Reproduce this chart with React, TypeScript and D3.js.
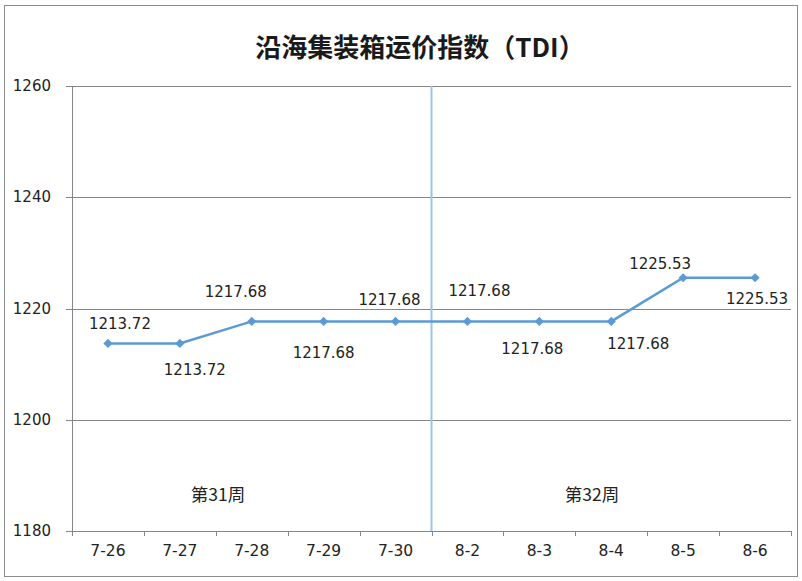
import React from "react";
import * as d3 from "d3";

const categories = ["7-26", "7-27", "7-28", "7-29", "7-30", "8-2", "8-3", "8-4", "8-5", "8-6"];
const values = [1213.72, 1213.72, 1217.68, 1217.68, 1217.68, 1217.68, 1217.68, 1217.68, 1225.53, 1225.53];
const yTicks = [1180, 1200, 1220, 1240, 1260];
const weekLabels = ["第31周", "第32周"];
const title = "沿海集装箱运价指数（TDI）";

// label placement offsets (layout only)
const labelDx = [12, 15, -16, 0, -6, 12, -7, 27, -23, 2];
const labelDy = [-19, 27, -29, 32, -21, -30, 28, 23, -14, 21];

const W = 802, H = 581;
const left = 72, right = 791, top = 86, bottom = 531;

export default function App() {
  const x = d3.scaleBand().domain(categories).range([left, right]).padding(0);
  const y = d3.scaleLinear().domain([1180, 1260]).range([bottom, top]);
  const cx = (c: string) => (x(c) as number) + x.bandwidth() / 2;
  const line = d3.line<number>().x((_, i) => cx(categories[i])).y((d) => y(d));
  const diamond = d3.symbol().type(d3.symbolSquare).size(42)();
  const boundaries = d3.range(categories.length + 1).map((i) => left + i * x.bandwidth());
  const split = x("8-2") as number;
  const font = "'DejaVu Sans', Verdana, sans-serif";
  const cjk = "'Noto Sans CJK SC', sans-serif";
  return (
    <svg width={W} height={H} style={{ position: "absolute", left: 0, top: 0, background: "#fff" }}>
      <rect x={4.5} y={5.5} width={793} height={571} fill="#fff" stroke="#8c8c8c" strokeWidth={1} />
      <text x={420} y={45} textAnchor="middle" dominantBaseline="central" fontFamily={cjk} fontWeight="bold" fontSize={26} fill="#1a1a1a">{title}</text>
      {yTicks.map((t) => (
        <g key={t}>
          <line x1={66} x2={right} y1={Math.round(y(t)) + 0.5} y2={Math.round(y(t)) + 0.5} stroke="#868686" strokeWidth={1} />
          <text x={51} y={y(t)} textAnchor="end" dominantBaseline="central" fontFamily={font} fontSize={15} fill="#222">{t}</text>
        </g>
      ))}
      <line x1={left + 0.5} x2={left + 0.5} y1={top} y2={bottom} stroke="#868686" />
      {boundaries.map((b, i) => (
        <line key={i} x1={Math.round(b) + 0.5} x2={Math.round(b) + 0.5} y1={bottom} y2={bottom + 5} stroke="#868686" />
      ))}
      {categories.map((c) => (
        <text key={c} x={cx(c)} y={551} textAnchor="middle" dominantBaseline="central" fontFamily={font} fontSize={15.5} fill="#222">{c}</text>
      ))}
      <line x1={split} x2={split} y1={top} y2={bottom} stroke="#9dc3e6" strokeWidth={2} />
      <text x={218} y={493} textAnchor="middle" dominantBaseline="central" fontFamily={cjk} fontSize={17.5} fill="#222">{weekLabels[0]}</text>
      <text x={592} y={493} textAnchor="middle" dominantBaseline="central" fontFamily={cjk} fontSize={17.5} fill="#222">{weekLabels[1]}</text>
      <path d={line(values) || ""} fill="none" stroke="#5b9bd5" strokeWidth={2.5} />
      {values.map((v, i) => (
        <path key={i} d={diamond || ""} transform={`translate(${cx(categories[i])},${y(v)}) rotate(45)`} fill="#5b9bd5" />
      ))}
      {values.map((v, i) => (
        <text key={"l" + i} x={cx(categories[i]) + labelDx[i]} y={y(v) + labelDy[i]} textAnchor="middle" dominantBaseline="central" fontFamily={font} fontSize={15} fill="#222">{v.toFixed(2)}</text>
      ))}
    </svg>
  );
}
